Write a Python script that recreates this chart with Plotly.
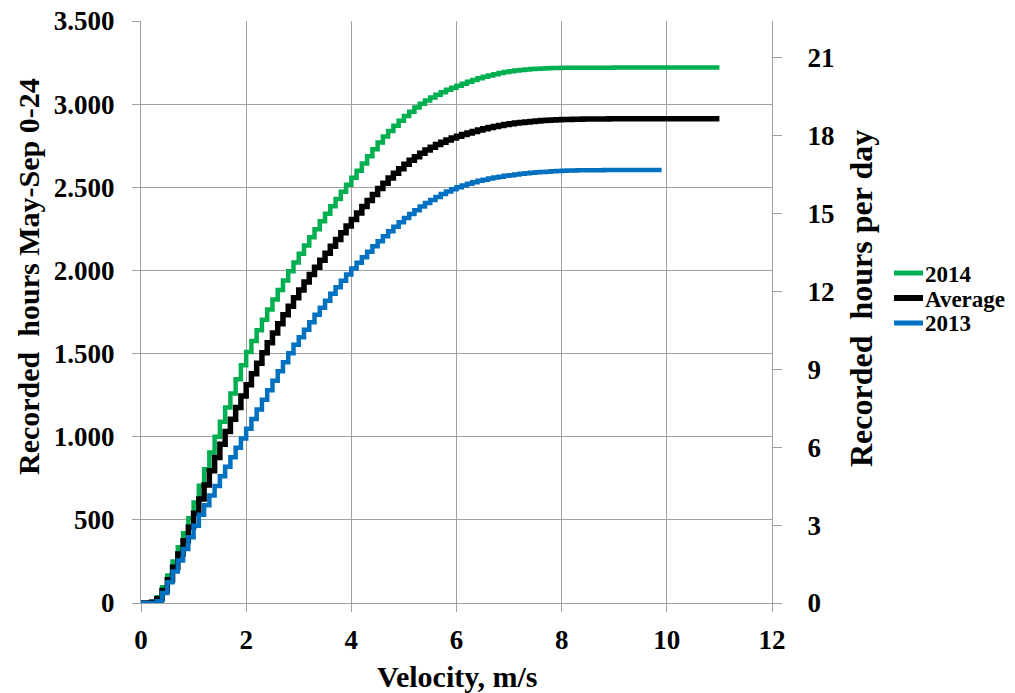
import plotly.graph_objects as go

# Velocity bins (m/s), 0.1 m/s wide
velocity = [round(i * 0.1, 1) for i in range(111)]

# Cumulative recorded hours (May-Sep, 0-24) at or below each velocity bin
hours_2014 = [
    0, 0, 8, 35, 95, 165, 250, 335, 420, 510,
    605, 705, 805, 905, 1000, 1090, 1175, 1260, 1345, 1430,
    1510, 1575, 1640, 1703, 1765, 1825, 1883, 1940, 1995, 2048,
    2100, 2150, 2200, 2248, 2295, 2341, 2386, 2430, 2473, 2515,
    2557, 2600, 2643, 2686, 2728, 2770, 2805, 2838, 2870, 2900,
    2928, 2955, 2980, 3002, 3022, 3040, 3057, 3072, 3086, 3099,
    3111, 3123, 3134, 3145, 3155, 3164, 3172, 3180, 3187, 3193,
    3198, 3202, 3206, 3209, 3211, 3213, 3215, 3216, 3217, 3218,
    3219, 3219, 3219, 3219, 3219, 3219, 3219, 3219, 3219, 3219,
    3220, 3220, 3220, 3220, 3220, 3220, 3220, 3220, 3220, 3220,
    3220, 3220, 3220, 3220, 3220, 3220, 3220, 3220, 3220, 3220,
    3220,
]

hours_average = [
    0, 0, 5, 25, 75, 140, 215, 295, 375, 455,
    540, 625, 710, 795, 875, 955, 1032, 1105, 1175, 1245,
    1312, 1378, 1442, 1505, 1565, 1623, 1679, 1733, 1785, 1835,
    1883, 1930, 1975, 2019, 2061, 2103, 2145, 2186, 2227, 2267,
    2307, 2346, 2384, 2421, 2457, 2492, 2525, 2556, 2585, 2612,
    2638, 2662, 2684, 2705, 2724, 2741, 2757, 2771, 2784, 2796,
    2807, 2817, 2827, 2836, 2844, 2852, 2859, 2865, 2871, 2877,
    2882, 2886, 2890, 2893, 2896, 2899, 2901, 2903, 2905, 2906,
    2907, 2908, 2909, 2909, 2910, 2910, 2911, 2911, 2911, 2912,
    2912, 2912, 2912, 2912, 2912, 2912, 2912, 2912, 2912, 2912,
    2912, 2912, 2912, 2912, 2912, 2912, 2912, 2912, 2912, 2912,
    2912,
]

hours_2013 = [
    0, 0, 0, 10, 60, 125, 190, 255, 325, 395,
    465, 530, 588, 646, 704, 762, 820, 877, 934, 990,
    1048, 1106, 1164, 1222, 1280, 1337, 1393, 1448, 1502, 1553,
    1598, 1644, 1689, 1733, 1776, 1818, 1859, 1899, 1938, 1975,
    2011, 2046, 2080, 2113, 2145, 2176, 2206, 2235, 2263, 2290,
    2315, 2339, 2362, 2384, 2405, 2424, 2442, 2459, 2474, 2488,
    2500, 2511, 2521, 2530, 2539, 2546, 2553, 2559, 2564, 2569,
    2573, 2577, 2581, 2584, 2587, 2590, 2592, 2594, 2596, 2598,
    2600, 2601, 2601, 2602, 2602, 2603, 2603, 2603, 2604, 2604,
    2604, 2604, 2604, 2604, 2604, 2604, 2604, 2604, 2604, 2604,
]

series_names = ["2014", "Average", "2013"]
series_colors = ["#00b050", "#000000", "#0070c0"]
series_widths = [4.5, 5.5, 4.5]

left_ticks = [0, 500, 1000, 1500, 2000, 2500, 3000, 3500]
left_labels = ["0", "500", "1.000", "1.500", "2.000", "2.500", "3.000", "3.500"]
right_ticks = [0, 3, 6, 9, 12, 15, 18, 21]
x_ticks = [0, 2, 4, 6, 8, 10, 12]

FONT = "Liberation Serif"
GRID = "#a0a0a0"


def bold(items):
    return [f"<b>{t}</b>" for t in items]


fig = go.Figure()
for name, ys, color, width in zip(series_names,
                                  [hours_2014, hours_average, hours_2013],
                                  series_colors, series_widths):
    fig.add_trace(go.Scatter(
        x=velocity[:len(ys)], y=ys, name=name, mode="lines",
        line=dict(color=color, width=width, shape="hv"),
    ))
# invisible trace that activates the right-hand axis
fig.add_trace(go.Scatter(
    x=[0], y=[0], yaxis="y2", mode="markers", marker=dict(opacity=0),
    showlegend=False, hoverinfo="skip",
))

L, R, T, B = 141, 243, 21, 90
W, H = 1015, 693
pw, ph = W - L - R, H - T - B


def px(xp):
    return (xp - L) / pw


def py(yp):
    return (H - B - yp) / ph


tick_font = dict(family=FONT, size=27, color="black")

annotations = [
    dict(text="<b>Velocity, m/s</b>", xref="paper", yref="paper",
         x=px(457), y=py(676), xanchor="center", yanchor="middle", showarrow=False,
         font=dict(family=FONT, size=30, color="black")),
    dict(text="<b>Recorded  hours May-Sep 0-24</b>", xref="paper", yref="paper",
         x=px(28), y=py(277), xanchor="center", yanchor="middle", showarrow=False,
         textangle=-90, font=dict(family=FONT, size=30, color="black")),
    dict(text="<b>Recorded  hours per day</b>", xref="paper", yref="paper",
         x=px(861), y=py(299), xanchor="center", yanchor="middle", showarrow=False,
         textangle=-90, font=dict(family=FONT, size=32, color="black")),
]

# legend: short line sample and bold label per series
shapes = []
for i, (name, color, width) in enumerate(zip(series_names, series_colors, series_widths)):
    yc = 273 + 25 * i
    shapes.append(dict(type="line", xref="paper", yref="paper",
                       x0=px(894), x1=px(923), y0=py(yc), y1=py(yc),
                       line=dict(color=color, width=width + 0.5)))
    annotations.append(dict(text=f"<b>{name}</b>", xref="paper", yref="paper",
                            x=px(923), y=py(yc + 1), xanchor="left", yanchor="middle",
                            showarrow=False,
                            font=dict(family=FONT, size=23, color="black")))

fig.update_layout(
    width=W, height=H,
    margin=dict(l=L, r=R, t=T, b=B, autoexpand=False),
    paper_bgcolor="white", plot_bgcolor="white",
    font=dict(family=FONT, color="black"),
    showlegend=False,
    xaxis=dict(
        range=[0, 12], tickvals=x_ticks, ticktext=bold([str(t) for t in x_ticks]),
        showgrid=True, gridcolor=GRID, gridwidth=1.3, automargin=False,
        zeroline=False, showline=True, linecolor=GRID, linewidth=1.3,
        ticks="outside", ticklen=8, tickcolor=GRID, tickwidth=1.3,
        tickfont=tick_font, ticklabelstandoff=4,
    ),
    yaxis=dict(
        range=[0, 3500], tickvals=left_ticks, ticktext=bold(left_labels),
        showgrid=True, gridcolor=GRID, gridwidth=1.3, automargin=False,
        zeroline=False, showline=True, linecolor=GRID, linewidth=1.3,
        ticks="outside", ticklen=8, tickcolor=GRID, tickwidth=1.3,
        tickfont=tick_font, ticklabelstandoff=12,
    ),
    yaxis2=dict(
        range=[0, 22.4], tickvals=right_ticks, ticktext=bold([str(t) for t in right_ticks]),
        overlaying="y", side="right", automargin=False,
        showgrid=False, zeroline=False, showline=True, linecolor=GRID, linewidth=1.3,
        ticks="outside", ticklen=9, tickcolor=GRID, tickwidth=1.3,
        tickfont=tick_font, ticklabelstandoff=20,
    ),
    annotations=annotations,
    shapes=shapes,
)

fig.write_html("out.html")
